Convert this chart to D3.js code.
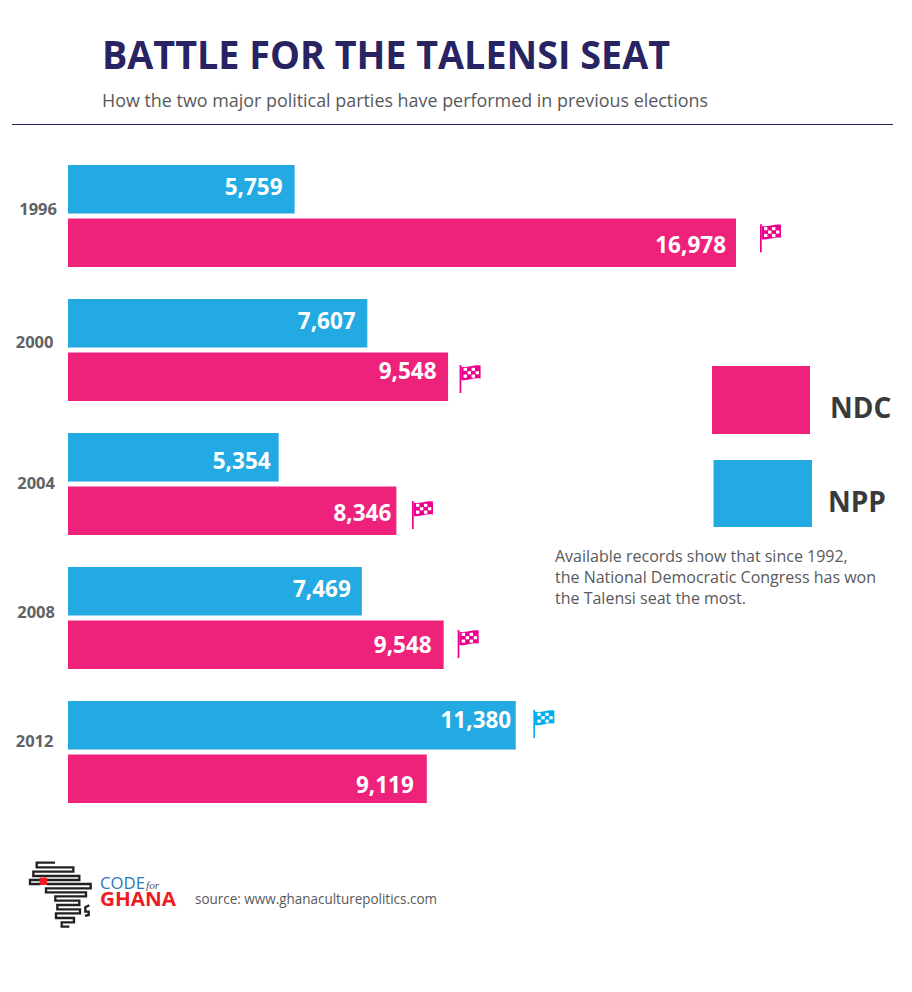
<!DOCTYPE html>
<html>
<head>
<meta charset="utf-8">
<script src="https://cdnjs.cloudflare.com/ajax/libs/d3/7.8.5/d3.min.js"></script>
<style>
html, body { margin: 0; padding: 0; background: #fff; }
svg { display: block; }
text { font-family: "Open Sans", sans-serif; }
</style>
</head>
<body>
<svg id="chart" width="912" height="992"></svg>
<script>
var width = 912, height = 992;

// values
var years = ["1996", "2000", "2004", "2008", "2012"];
var parties = ["NPP", "NDC"];
var nppVotes = [5759, 7607, 5354, 7469, 11380];
var ndcVotes = [16978, 9660, 8346, 9548, 9119];   // 2000 bar is drawn longer than its label says
var nppLabels = ["5,759", "7,607", "5,354", "7,469", "11,380"];
var ndcLabels = ["16,978", "9,548", "8,346", "9,548", "9,119"];
var winners = ["NDC", "NDC", "NDC", "NDC", "NPP"];
var noteLines = ["Available records show that since 1992,",
                 "the National Democratic Congress has won",
                 "the Talensi seat the most."];

var color = { NDC: "#ee227b", NPP: "#24aae2" };
var flagColor = { NDC: "#ec008c", NPP: "#00aeef" };
var navy = "#282463", grey = "#58595b";

// the original was laid out by hand, labels and flags don't line up row to row
var labelNudge = {
    NPP: { gap: [12, 11.6, 8, 11, 4.5], base: [30, 29.7, 36, 29.7, 27.3] },
    NDC: { gap: [10, 11.5, 5, 12, 13], base: [34.2, 26.5, 34.5, 32.2, 38.2] }
};
var yearEnd = [57, 53.5, 55, 55, 53.5];
var yearBase = [50, 49.3, 56, 51.3, 45.7];
var flagDx = [24, 11.5, 15.6, 14, 17.6];
var flagDy = [5.8, 12.5, 14.5, 9.5, 9];

var svg = d3.select("#chart");

// scales
var x = d3.scaleLinear().domain([0, 16978]).range([68, 736]);
var yRow = d3.scaleBand().domain(years).range([165, 835]);
var yParty = d3.scaleBand().domain(parties).range([0, 102]).paddingInner(0.0935);

// header
svg.append("text").attr("x", 102).attr("y", 69)
    .attr("font-size", 40).attr("font-weight", 700).attr("fill", navy)
    .attr("textLength", 568).attr("lengthAdjust", "spacingAndGlyphs")
    .text("BATTLE FOR THE TALENSI SEAT");
svg.append("text").attr("x", 102).attr("y", 107)
    .attr("font-size", 18.5).attr("fill", grey)
    .attr("textLength", 606).attr("lengthAdjust", "spacingAndGlyphs")
    .text("How the two major political parties have performed in previous elections");
svg.append("line").attr("x1", 12).attr("x2", 893).attr("y1", 124.5).attr("y2", 124.5)
    .attr("stroke", navy).attr("stroke-width", 1);

// one row per election
var rows = years.map(function(y, i) {
    return { year: y, i: i, winner: winners[i] };
});
var bars = [];
rows.forEach(function(r) {
    bars.push({ year: r.year, i: r.i, party: "NPP", votes: nppVotes[r.i], label: nppLabels[r.i], won: r.winner == "NPP" });
    bars.push({ year: r.year, i: r.i, party: "NDC", votes: ndcVotes[r.i], label: ndcLabels[r.i], won: r.winner == "NDC" });
});

var barG = svg.selectAll("g.bar").data(bars).enter().append("g")
    .attr("class", "bar")
    .attr("transform", function(d) { return "translate(0," + (yRow(d.year) + yParty(d.party)) + ")"; });

barG.append("rect")
    .attr("x", x(0))
    .attr("width", function(d) { return x(d.votes) - x(0); })
    .attr("height", yParty.bandwidth())
    .attr("fill", function(d) { return color[d.party]; });

barG.append("text")
    .attr("x", function(d) { return x(d.votes) - labelNudge[d.party].gap[d.i]; })
    .attr("y", function(d) { return labelNudge[d.party].base[d.i]; })
    .attr("text-anchor", "end")
    .attr("font-size", 22.5).attr("font-weight", 700).attr("fill", "#fff")
    .text(function(d) { return d.label; });

svg.selectAll("text.year").data(rows).enter().append("text")
    .attr("class", "year")
    .attr("x", function(d) { return yearEnd[d.i]; })
    .attr("text-anchor", "end")
    .attr("y", function(d) { return yRow(d.year) + yearBase[d.i]; })
    .attr("font-size", 16.5).attr("font-weight", 700).attr("fill", "#616265")
    .text(function(d) { return d.year; });

// winner flags
var flagCells = [[0,0],[2,0],[1,1],[3,1],[0,2],[2,2]];
var flags = barG.filter(function(d) { return d.won; }).append("g")
    .attr("transform", function(d) { return "translate(" + (x(d.votes) + flagDx[d.i]) + "," + flagDy[d.i] + ")"; });
flags.append("rect").attr("x", 0).attr("y", 0).attr("width", 1.7).attr("height", 28)
    .attr("fill", function(d) { return flagColor[d.party]; });
flags.append("path")
    .attr("d", "M1.7,1.5 C7,3.5 14,-1 21,0.5 L21,13.5 C14,12 7,16.5 1.7,15 Z")
    .attr("fill", function(d) { return flagColor[d.party]; });
flags.selectAll("rect.cell").data(flagCells).enter().append("rect")
    .attr("class", "cell")
    .attr("x", function(d) { return 4 + d[0] * 4; })
    .attr("y", function(d) { return 2.8 + d[1] * 3.4; })
    .attr("width", 3.4).attr("height", 3.1)
    .attr("fill", "#fff");

// legend
var legend = [
    { party: "NDC", x: 712, y: 366, w: 98, h: 68, tx: 830, ty: 418 },
    { party: "NPP", x: 713.5, y: 460, w: 98.5, h: 67, tx: 828, ty: 512 }
];
svg.selectAll("rect.legend").data(legend).enter().append("rect")
    .attr("class", "legend")
    .attr("x", function(d) { return d.x; }).attr("y", function(d) { return d.y; })
    .attr("width", function(d) { return d.w; }).attr("height", function(d) { return d.h; })
    .attr("fill", function(d) { return color[d.party]; });
svg.selectAll("text.legend").data(legend).enter().append("text")
    .attr("class", "legend")
    .attr("x", function(d) { return d.tx; }).attr("y", function(d) { return d.ty; })
    .attr("font-size", 28).attr("font-weight", 700).attr("fill", "#3a3a3c")
    .text(function(d) { return d.party; });

// note
svg.selectAll("text.note").data(noteLines).enter().append("text")
    .attr("class", "note")
    .attr("x", 555)
    .attr("y", function(d, i) { return 561.5 + i * 21; })
    .attr("font-size", 16).attr("fill", grey)
    .text(function(d) { return d; });

// logo at 3x, so scale it back down
var logo = svg.append("g").attr("transform", "translate(20,850) scale(0.3333)");
var logoLine = d3.line();
var africa = [[105,38],[50,38],[50,52],[160,52],[160,65],[40,65],[40,78],[178,78],[178,90],[30,90],[30,102],[62,102]];
var africa2 = [[80,102],[212,102],[212,115],[78,115],[78,127],[198,127],[198,139],[106,139],[106,152],[178,152],
               [178,165],[112,165],[112,178],[180,178],[180,190],[108,190],[108,204],[162,204],[162,217],[125,217],[125,230],[148,230]];
var island = [[208,166],[196,172],[196,185],[206,185],[206,195],[195,198]];
[africa, africa2, island].forEach(function(p) {
    logo.append("path").attr("d", logoLine(p)).attr("fill", "none")
        .attr("stroke", "#231f20").attr("stroke-width", 7);
});
logo.append("rect").attr("x", 59).attr("y", 83).attr("width", 22).attr("height", 22).attr("fill", "#ed1c24");
logo.append("text").attr("x", 240).attr("y", 118)
    .attr("font-size", 50).attr("fill", "#2a7ab8")
    .attr("textLength", 135).attr("lengthAdjust", "spacingAndGlyphs").text("CODE");
logo.append("text").attr("x", 378).attr("y", 116)
    .attr("font-size", 34).attr("font-style", "italic").attr("fill", "#555")
    .style("font-family", "Liberation Serif").text("for");
logo.append("text").attr("x", 240).attr("y", 168)
    .attr("font-size", 56).attr("font-weight", 700).attr("fill", "#ed1c24")
    .attr("textLength", 228).attr("lengthAdjust", "spacingAndGlyphs").text("GHANA");

svg.append("text").attr("x", 195).attr("y", 904)
    .attr("font-size", 14.5).attr("fill", grey)
    .attr("textLength", 242).attr("lengthAdjust", "spacingAndGlyphs")
    .text("source: www.ghanaculturepolitics.com");
</script>
</body>
</html>
